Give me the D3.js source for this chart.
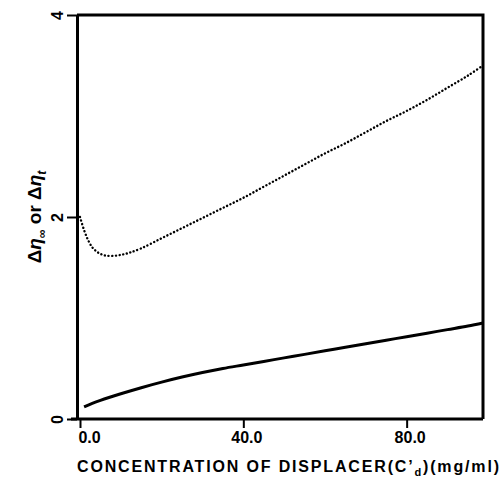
<!DOCTYPE html>
<html>
<head>
<meta charset="utf-8">
<script src="https://cdn.jsdelivr.net/npm/d3@7"></script>
<style>
  body { margin: 0; background: #fff; }
  svg { display: block; font-family: 'Liberation Sans', Arial, sans-serif; }
</style>
</head>
<body>
<div id="chart"></div>
<script>
// concentration of displacer (mg/ml)
const dottedX = [0, 1, 2, 3, 4, 5, 6, 8, 10, 12, 15, 20, 25, 30, 35, 40, 45, 50, 55, 60, 65, 70, 75, 80, 85, 90, 95, 98.7]
const dottedY = [2.0, 1.87, 1.77, 1.70, 1.66, 1.635, 1.62, 1.615, 1.625, 1.645, 1.69, 1.79, 1.89, 1.99, 2.09, 2.19, 2.30, 2.41, 2.52, 2.63, 2.73, 2.84, 2.95, 3.05, 3.16, 3.28, 3.40, 3.50]
const solidX = [1, 3, 5, 10, 15, 20, 25, 30, 35, 40, 45, 50, 55, 60, 65, 70, 75, 80, 85, 90, 95, 98.7]
const solidY = [0.12, 0.155, 0.185, 0.25, 0.31, 0.365, 0.415, 0.46, 0.50, 0.535, 0.57, 0.605, 0.64, 0.675, 0.71, 0.745, 0.78, 0.815, 0.85, 0.885, 0.92, 0.95]
const xTicks = [0, 40, 80]
const xTickLabels = ['0.0', '40.0', '80.0']
const yTicks = [0, 2, 4]

const width = 503
const height = 480

const svg = d3.select('#chart').append('svg')
  .attr('width', width)
  .attr('height', height)

const x = d3.scaleLinear().domain([0, 98.7]).range([80, 483])
const y = d3.scaleLinear().domain([0, 4]).range([419, 15])
const axisLeftX = 77

const frame = svg.append('g')
  .attr('stroke', '#000')
  .attr('stroke-width', 3)
  .attr('fill', 'none')

// top and right sides of the box
frame.append('path')
  .attr('d', 'M' + axisLeftX + ',' + y(4) + 'H' + x(98.7) + 'V' + y(0))

const xAxis = d3.axisBottom(x)
  .tickValues(xTicks)
  .tickFormat((d, i) => xTickLabels[i])
  .tickSize(9)
  .tickSizeOuter(0)

const gx = svg.append('g')
  .attr('transform', 'translate(0,' + y(0) + ')')
  .call(xAxis)
gx.select('.domain')
  .attr('d', 'M' + (axisLeftX - 6) + ',0H' + x(98.7))
  .attr('stroke-width', 3)
gx.selectAll('.tick line').attr('stroke-width', 2)
gx.selectAll('.tick text')
  .attr('y', 13)
  .attr('dx', (d, i) => i === 0 ? 9 : 3)
  .attr('font-size', 16)
  .attr('font-weight', 'bold')
  .attr('fill', '#000')

const yAxis = d3.axisLeft(y)
  .tickValues(yTicks)
  .tickFormat(d3.format('d'))
  .tickSize(10)
  .tickSizeOuter(0)

const gy = svg.append('g')
  .attr('transform', 'translate(' + axisLeftX + ',0)')
  .call(yAxis)
gy.select('.domain').attr('stroke-width', 3)
gy.selectAll('.tick line').attr('stroke-width', 2)
gy.selectAll('.tick text')
  .attr('x', null)
  .attr('dy', null)
  .attr('transform', 'translate(-14,0) rotate(-90)')
  .attr('text-anchor', 'middle')
  .attr('font-size', 16)
  .attr('font-weight', 'bold')
  .attr('fill', '#000')

const line = d3.line()
  .x(d => x(d[0]))
  .y(d => y(d[1]))
  .curve(d3.curveCatmullRom.alpha(0.5))

svg.append('path')
  .datum(dottedX.map((v, i) => [v, dottedY[i]]))
  .attr('fill', 'none')
  .attr('stroke', '#000')
  .attr('stroke-width', 2.4)
  .attr('stroke-linecap', 'round')
  .attr('stroke-dasharray', '0.1,3.6')
  .attr('d', line)

svg.append('path')
  .datum(solidX.map((v, i) => [v, solidY[i]]))
  .attr('fill', 'none')
  .attr('stroke', '#000')
  .attr('stroke-width', 3)
  .attr('d', line)

// y axis title
const yTitle = svg.append('text')
  .attr('transform', 'translate(41,' + y(2) + ') rotate(-90)')
  .attr('text-anchor', 'middle')
  .attr('font-size', 19)
  .attr('font-weight', 'bold')
  .attr('fill', '#000')
yTitle.append('tspan').text('Δ')
yTitle.append('tspan').attr('font-style', 'italic').text('η')
yTitle.append('tspan').attr('font-size', 12).attr('dy', 5).text('∞')
yTitle.append('tspan').attr('dy', -5).text(' or Δ')
yTitle.append('tspan').attr('font-style', 'italic').text('η')
yTitle.append('tspan').attr('font-size', 12).attr('font-style', 'italic').attr('dy', 5).text('t')

// x axis title
const xTitle = svg.append('text')
  .attr('x', 77)
  .attr('y', 472)
  .attr('font-size', 16)
  .attr('font-weight', 'bold')
  .attr('fill', '#000')
  .attr('textLength', 422)
  .attr('lengthAdjust', 'spacing')
xTitle.append('tspan').text('CONCENTRATION OF DISPLACER(C\u2019')
xTitle.append('tspan').attr('font-size', 11).attr('dy', 4).text('d')
xTitle.append('tspan').attr('dy', -4).text(')(mg/ml)')
</script>
</body>
</html>
